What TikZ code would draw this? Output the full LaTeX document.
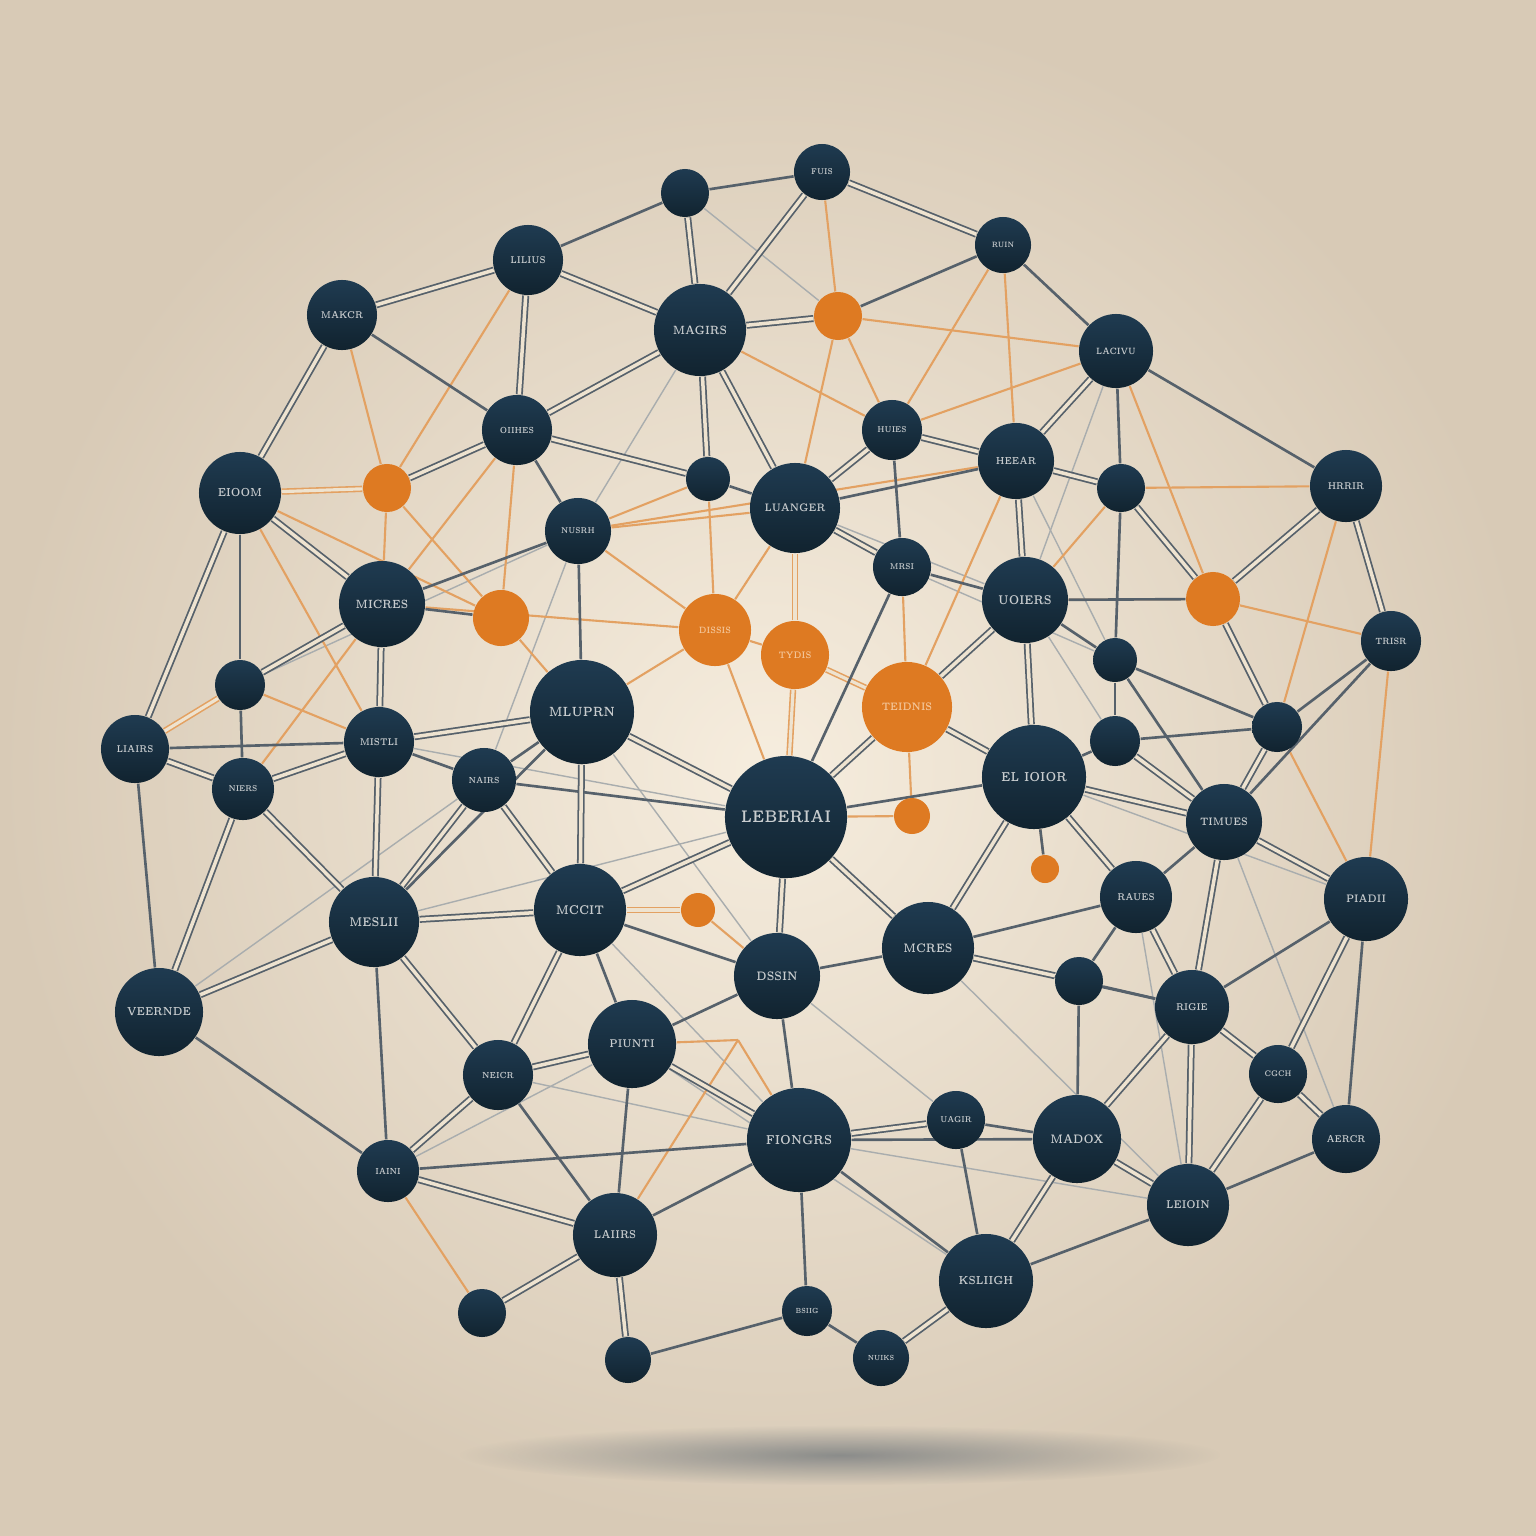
\documentclass[tikz,border=0pt]{standalone}
\usepackage{graphicx}
\usetikzlibrary{fadings}
\definecolor{bgc}{HTML}{F6EDDE}
\definecolor{bge}{HTML}{D8CAB6}
\definecolor{nvhi}{HTML}{1F3B51}
\definecolor{nvlo}{HTML}{11232F}
\definecolor{lbl}{HTML}{C9CDCF}
\definecolor{orng}{HTML}{DE7A22}
\definecolor{olbl}{HTML}{F4C79B}
\definecolor{edgec}{HTML}{56616B}
\definecolor{ledge}{HTML}{A9ADAE}
\definecolor{oedge}{HTML}{E3A162}
\definecolor{dblc}{HTML}{EEE3D0}
\tikzfading[name=shadowfade, inner color=transparent!0, outer color=transparent!100]
\pgfdeclarelayer{back}
\pgfdeclarelayer{edges}
\pgfsetlayers{back,edges,main}
\newcommand\lbtxt[1]{\scalebox{0.74}[1]{#1}}
\tikzset{
  dn/.style={circle, inner sep=0pt, minimum size=#1*0.2mm, top color=nvhi, bottom color=nvlo, draw=none, text=lbl},
  on/.style={circle, inner sep=0pt, minimum size=#1*0.2mm, fill=orng, draw=none, text=olbl},
  fs/.style={font=\fontsize{#1}{#1}\selectfont\bfseries},
  g/.style={draw=edgec, line width=0.75pt},
  gg/.style={draw=edgec, line width=0.5pt, double=dblc, double distance=1pt},
  lg/.style={draw=ledge, line width=0.4pt},
  og/.style={draw=oedge, line width=0.6pt},
  ogg/.style={draw=oedge, line width=0.45pt, double=dblc, double distance=0.9pt},
}
\begin{document}
\begin{tikzpicture}[x=0.01cm, y=-0.01cm]
\useasboundingbox (0,0) rectangle (1536,1536);
\begin{pgfonlayer}{back}
  \shade[inner color=bgc, outer color=bge] (0,0) rectangle (1536,1536);
  \fill[color=edgec, opacity=0.6, path fading=shadowfade] (840,1455) ellipse (3.8cm and 0.3cm);
\end{pgfonlayer}

% dark nodes
\node[dn=28, fs=2.4] (n1) at (822,172) {\lbtxt{FUIS}};
\node[dn=24] (n2) at (685,193) {};
\node[dn=28, fs=2.2] (n3) at (1003,245) {\lbtxt{RUIN}};
\node[dn=35, fs=2.8] (n4) at (528,260) {\lbtxt{LILIUS}};
\node[dn=35, fs=2.8] (n5) at (342,315) {\lbtxt{MAKCR}};
\node[dn=46, fs=3.4] (n6) at (700,330) {\lbtxt{MAGIRS}};
\node[dn=37, fs=2.6] (n7) at (1116,351) {\lbtxt{LACIVU}};
\node[dn=35, fs=2.5] (n8) at (517,430) {\lbtxt{OIIHES}};
\node[dn=30, fs=2.4] (n9) at (892,430) {\lbtxt{HUIES}};
\node[dn=38, fs=2.9] (n10) at (1016,461) {\lbtxt{HEEAR}};
\node[dn=41, fs=3.3] (n11) at (240,493) {\lbtxt{EIOOM}};
\node[dn=22] (n12) at (708,479) {};
\node[dn=45, fs=3.1] (n13) at (795,508) {\lbtxt{LUANGER}};
\node[dn=24] (n14) at (1121,488) {};
\node[dn=36, fs=2.8] (n15) at (1346,486) {\lbtxt{HRRIR}};
\node[dn=33, fs=2.4] (n16) at (578,531) {\lbtxt{NUSRH}};
\node[dn=29, fs=2.4] (n17) at (902,567) {\lbtxt{MRSI}};
\node[dn=43, fs=3.4] (n18) at (382,604) {\lbtxt{MICRES}};
\node[dn=43, fs=3.6] (n19) at (1025,600) {\lbtxt{UOIERS}};
\node[dn=30, fs=2.6] (n20) at (1391,641) {\lbtxt{TRISR}};
\node[dn=25] (n21) at (240,685) {};
\node[dn=22] (n22) at (1115,660) {};
\node[dn=52, fs=3.8] (n23) at (582,712) {\lbtxt{MLUPRN}};
\node[dn=34, fs=2.8] (n24) at (135,749) {\lbtxt{LIAIRS}};
\node[dn=35, fs=2.8] (n25) at (379,742) {\lbtxt{MISTLI}};
\node[dn=25] (n26) at (1277,727) {};
\node[dn=25] (n27) at (1115,741) {};
\node[dn=31, fs=2.4] (n28) at (243,789) {\lbtxt{NIERS}};
\node[dn=32, fs=2.5] (n29) at (484,780) {\lbtxt{NAIRS}};
\node[dn=52, fs=3.7] (n30) at (1034,777) {\lbtxt{EL IOIOR}};
\node[dn=61, fs=4.8] (n31) at (786,817) {\lbtxt{LEBERIAI}};
\node[dn=38, fs=3.1] (n32) at (1224,822) {\lbtxt{TIMUES}};
\node[dn=45, fs=3.6] (n33) at (374,922) {\lbtxt{MESLII}};
\node[dn=46, fs=3.6] (n34) at (580,910) {\lbtxt{MCCIT}};
\node[dn=42, fs=3.1] (n35) at (1366,899) {\lbtxt{PIADII}};
\node[dn=36, fs=2.8] (n36) at (1136,897) {\lbtxt{RAUES}};
\node[dn=46, fs=3.5] (n37) at (928,948) {\lbtxt{MCRES}};
\node[dn=43, fs=3.5] (n38) at (777,976) {\lbtxt{DSSIN}};
\node[dn=24] (n39) at (1079,981) {};
\node[dn=44, fs=3.3] (n40) at (159,1012) {\lbtxt{VEERNDE}};
\node[dn=37, fs=2.8] (n41) at (1192,1007) {\lbtxt{RIGIE}};
\node[dn=44, fs=3.2] (n42) at (632,1044) {\lbtxt{PIUNTI}};
\node[dn=35, fs=2.5] (n43) at (498,1075) {\lbtxt{NEICR}};
\node[dn=29, fs=2.3] (n44) at (1278,1074) {\lbtxt{CGCH}};
\node[dn=52, fs=3.7] (n45) at (799,1140) {\lbtxt{FIONGRS}};
\node[dn=29, fs=2.4] (n46) at (956,1120) {\lbtxt{UAGIR}};
\node[dn=44, fs=3.5] (n47) at (1077,1139) {\lbtxt{MADOX}};
\node[dn=34, fs=2.8] (n48) at (1346,1139) {\lbtxt{AERCR}};
\node[dn=31, fs=2.5] (n49) at (388,1171) {\lbtxt{IAINI}};
\node[dn=41, fs=3.2] (n50) at (1188,1205) {\lbtxt{LEIOIN}};
\node[dn=42, fs=3.2] (n51) at (615,1235) {\lbtxt{LAIIRS}};
\node[dn=47, fs=3.3] (n52) at (986,1281) {\lbtxt{KSLIIGH}};
\node[dn=24] (n53) at (482,1313) {};
\node[dn=25, fs=2.1] (n54) at (807,1311) {\lbtxt{BSIIG}};
\node[dn=23] (n55) at (628,1360) {};
\node[dn=28, fs=2.1] (n56) at (881,1358) {\lbtxt{NUIKS}};
% orange nodes
\node[on=24] (o1) at (838,316) {};
\node[on=24] (o2) at (387,488) {};
\node[on=28] (o3) at (501,618) {};
\node[on=36, fs=2.6] (o4) at (715,630) {\lbtxt{DISSIS}};
\node[on=34, fs=2.7] (o5) at (795,655) {\lbtxt{TYDIS}};
\node[on=45, fs=3.1] (o6) at (907,707) {\lbtxt{TEIDNIS}};
\node[on=27] (o7) at (1213,599) {};
\node[on=18] (o8) at (912,816) {};
\node[on=14] (o9) at (1045,869) {};
\node[on=17] (o10) at (698,910) {};
\coordinate (ov) at (738,1040);

\begin{pgfonlayer}{edges}
% light gray
\foreach \a/\b in {n2/o1, n6/n16, n13/n19, n7/n19, n10/n22, n23/n38, n33/n31, n40/n29, n49/n42, n29/n31, n45/n50, n34/n45, n25/n31, n37/n50, n42/n52, n17/n22, n36/n50, n19/n27, n32/n48, n38/n46, n30/n35, n16/n29, n43/n45, n21/n16}
  \draw[lg] (\a) -- (\b);
% orange
\foreach \a/\b in {n5/o2, n4/o2, n11/o3, o2/n18, o2/o3, n8/n18, n8/o3, n1/o1, o1/n7, o1/n9, o1/n13, n6/n9, n3/n9, n9/n7, n3/n10, n14/n15, n14/n19, n7/o7, n15/n26, n21/n25, n28/n18, o4/o5, o4/n31, o8/n31, o6/o8, n26/n35, n20/n35, n49/n53, n16/n13, n16/n12, n23/o4, o4/n13, o4/n12, o6/n17, n16/o4, o3/n23, n10/o6, o9/n30, n10/n16, o7/n20, n19/o7, o10/n38, n51/ov, ov/n45, n42/ov, n18/o4, o6/n30, n11/n25}
  \draw[og] (\a) -- (\b);
\foreach \a/\b in {n11/o2, n21/n24, o5/n31, o5/o6, o10/n34, o5/n13}
  \draw[ogg] (\a) -- (\b);
% gray single
\foreach \a/\b in {n2/n1, n2/n4, o1/n3, n3/n7, n7/n14, n7/n15, n12/n13, n9/n17, n18/o3, n21/n28, n24/n25, n24/n40, n25/n29, n34/n38, n38/n37, n19/o7, n22/n26, n22/n27, n27/n30, n27/n26, n26/n20, n30/o9, n32/n36, n36/n39, n39/n41, n39/n47, n35/n41, n40/n49, n33/n49, n43/n51, n42/n51, n48/n50, n50/n52, n46/n47, n35/n48, n55/n54, n54/n56, n54/n45, n14/n22, n5/n8, n13/n10, n17/n19, n17/n13, n16/n23, n29/n23, n37/n30, n37/n36, n45/n47, n45/n52, n46/n52, n42/n38, n38/n45, n51/n45, n31/n30, n19/n22, n37/n41, n34/n42, n11/n21, n21/n18, n18/n16, n8/n16, n23/n33, n31/n29, n22/n32, n31/n17, n44/n35, n49/n45, n32/n20}
  \draw[g] (\a) -- (\b);
% gray double
\foreach \a/\b in {n5/n4, n5/n11, n4/n8, n8/o2, n11/n18, n11/n24, n2/n6, n1/n6, n1/n3, n6/n4, n6/o1, n6/n8, n6/n13, n6/n12, n8/n12, n9/n13, n9/n10, n7/n10, n10/n14, n10/n19, n14/o7, n15/o7, n15/n20, n18/n21, n18/n25, n24/n28, n28/n25, n28/n33, n28/n40, n25/n23, n25/n33, n29/n33, n29/n34, n33/n40, n33/n34, n23/n31, n23/n34, n31/n34, n31/n38, n31/n37, o6/n31, o6/n30, o6/n19, n19/n30, n26/o7, n26/n32, n30/n32, n30/n36, n27/n32, n32/n35, n32/n41, n36/n41, n35/n44, n43/n49, n49/n51, n53/n51, n33/n43, n42/n43, n42/n45, n51/n55, n56/n52, n39/n37, n41/n47, n41/n44, n44/n50, n44/n48, n47/n50, n47/n52, n41/n50, n45/n46, n13/n17, n30/n37, n34/n43}
  \draw[gg] (\a) -- (\b);
\end{pgfonlayer}
\end{tikzpicture}
\end{document}
